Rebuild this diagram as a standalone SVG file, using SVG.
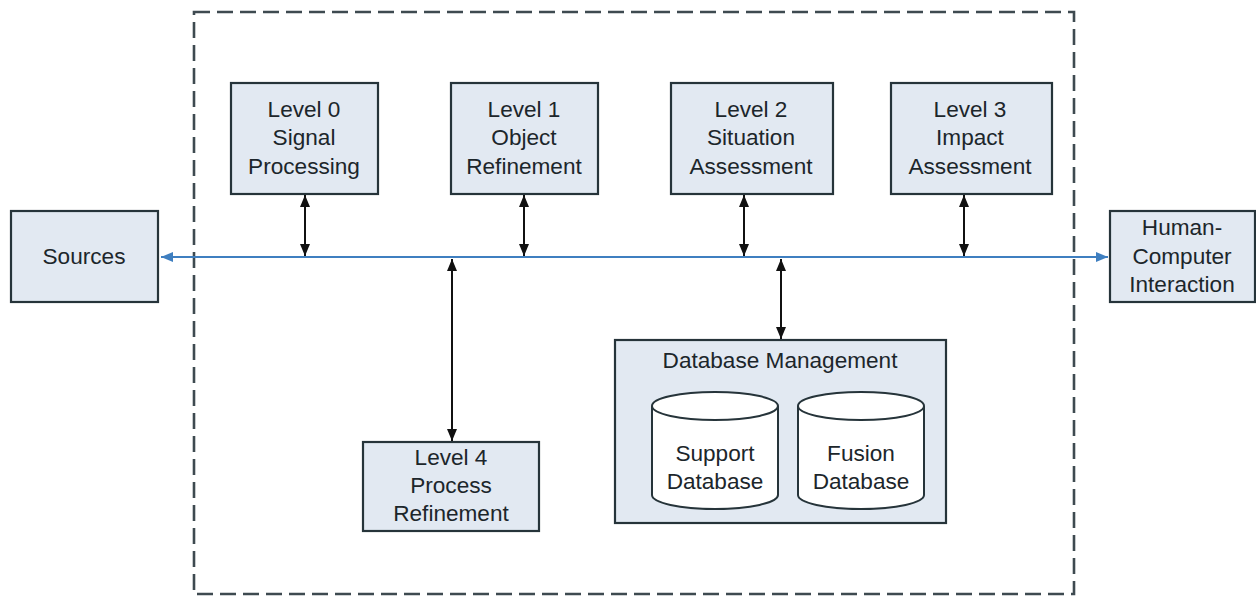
<svg xmlns="http://www.w3.org/2000/svg" width="1256" height="596" viewBox="0 0 1256 596">
<defs>
<marker id="ab" viewBox="0 0 12 10" refX="12" refY="5" markerWidth="12" markerHeight="10" markerUnits="userSpaceOnUse" orient="auto-start-reverse"><path d="M0,0 L12,5 L0,10 Z" fill="#111"/></marker>
<marker id="au" viewBox="0 0 12 10" refX="12" refY="5" markerWidth="12" markerHeight="10" markerUnits="userSpaceOnUse" orient="auto-start-reverse"><path d="M0,0 L12,5 L0,10 Z" fill="#3f7fc0"/></marker>
</defs>
<style>
.box{fill:#e2e9f2;stroke:#26343a;stroke-width:2.2}
.cyl{fill:#ffffff;stroke:#26343a;stroke-width:2}
.t{font-family:"Liberation Sans",Arial,sans-serif;font-size:22.6px;fill:#1c262b;text-anchor:middle}
.c{stroke:#111;stroke-width:2;fill:none}
.bus{stroke:#3f7fc0;stroke-width:2;fill:none}
</style>
<rect width="1256" height="596" fill="#ffffff"/>
<rect x="194" y="12" width="880" height="582" fill="none" stroke="#3e4a50" stroke-width="2.6" stroke-dasharray="16,7"/>

<g id="sources"><rect class="box" x="11" y="211" width="147" height="91"/><text class="t" x="84" y="264">Sources</text></g>
<g id="hci"><rect class="box" x="1110" y="211" width="145" height="91"/><text class="t" x="1182" y="235">Human-</text><text class="t" x="1182" y="264">Computer</text><text class="t" x="1182" y="292">Interaction</text></g>
<g id="level0"><rect class="box" x="231" y="83" width="147" height="111"/><text class="t" x="304" y="117">Level 0</text><text class="t" x="304" y="145">Signal</text><text class="t" x="304" y="174">Processing</text></g>
<g id="level1"><rect class="box" x="451" y="83" width="147" height="111"/><text class="t" x="524" y="117">Level 1</text><text class="t" x="524" y="145">Object</text><text class="t" x="524" y="174">Refinement</text></g>
<g id="level2"><rect class="box" x="671" y="83" width="162" height="111"/><text class="t" x="751" y="117">Level 2</text><text class="t" x="751" y="145">Situation</text><text class="t" x="751" y="174">Assessment</text></g>
<g id="level3"><rect class="box" x="891" y="83" width="161" height="111"/><text class="t" x="970" y="117">Level 3</text><text class="t" x="970" y="145">Impact</text><text class="t" x="970" y="174">Assessment</text></g>
<g id="level4"><rect class="box" x="363" y="442" width="176" height="89"/><text class="t" x="451" y="465">Level 4</text><text class="t" x="451" y="493">Process</text><text class="t" x="451" y="521">Refinement</text></g>
<g id="dbm"><rect class="box" x="615" y="340" width="331" height="183"/><text class="t" x="780" y="368">Database Management</text>
<g id="support"><path class="cyl" d="M652,406 L652,495 A63,14 0 0 0 778,495 L778,406 A63,14 0 0 0 652,406 Z"/><path class="cyl" fill="none" d="M652,406 A63,14 0 0 0 778,406"/><text class="t" x="715" y="461">Support</text><text class="t" x="715" y="489">Database</text></g>
<g id="fusion"><path class="cyl" d="M798,406 L798,495 A63,14 0 0 0 924,495 L924,406 A63,14 0 0 0 798,406 Z"/><path class="cyl" fill="none" d="M798,406 A63,14 0 0 0 924,406"/><text class="t" x="861" y="461">Fusion</text><text class="t" x="861" y="489">Database</text></g>
</g>

<g id="connectors">
<line class="bus" x1="161" y1="257" x2="1108" y2="257" marker-start="url(#au)" marker-end="url(#au)"/>
<line class="c" x1="305" y1="195" x2="305" y2="256" marker-start="url(#ab)" marker-end="url(#ab)"/>
<line class="c" x1="524" y1="195" x2="524" y2="256" marker-start="url(#ab)" marker-end="url(#ab)"/>
<line class="c" x1="744" y1="195" x2="744" y2="256" marker-start="url(#ab)" marker-end="url(#ab)"/>
<line class="c" x1="964" y1="195" x2="964" y2="256" marker-start="url(#ab)" marker-end="url(#ab)"/>
<line class="c" x1="452" y1="259" x2="452" y2="441" marker-start="url(#ab)" marker-end="url(#ab)"/>
<line class="c" x1="781" y1="259" x2="781" y2="339" marker-start="url(#ab)" marker-end="url(#ab)"/>
</g>
</svg>
